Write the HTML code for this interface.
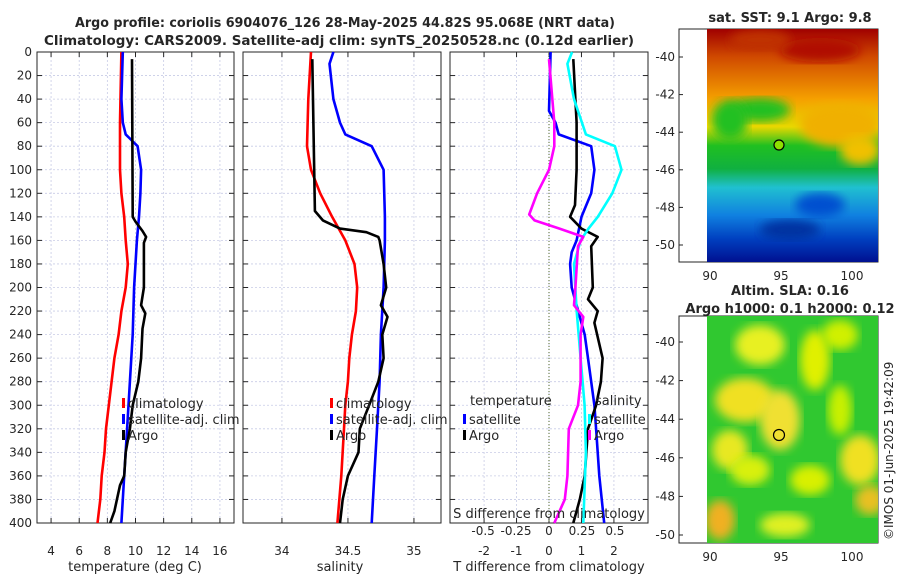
<!DOCTYPE html>
<html><head><meta charset="utf-8"><style>
body{margin:0;background:#fff;}
svg text{font-family:"DejaVu Sans","Liberation Sans",sans-serif;fill:#262626;}
</style></head><body>
<svg id="c" width="900" height="580" xmlns="http://www.w3.org/2000/svg">
<defs>
<linearGradient id="sstg" x1="0" y1="0" x2="0" y2="1">
<stop offset="0" stop-color="#a00000"/><stop offset="0.12" stop-color="#d04a00"/><stop offset="0.3" stop-color="#f5a000"/><stop offset="0.42" stop-color="#e8d800"/><stop offset="0.5" stop-color="#20c020"/><stop offset="0.6" stop-color="#10b040"/><stop offset="0.68" stop-color="#20c0d0"/><stop offset="0.8" stop-color="#1080e0"/><stop offset="0.9" stop-color="#0040c0"/><stop offset="1" stop-color="#001090"/>
</linearGradient>
<filter id="blur"><feGaussianBlur stdDeviation="5"/></filter>
<clipPath id="clip1"><rect x="707" y="29" width="171" height="233"/></clipPath>
<clipPath id="clip2"><rect x="707" y="316" width="171" height="227"/></clipPath>
</defs>
<text x="75" y="27" textLength="540" lengthAdjust="spacingAndGlyphs" font-size="13" font-weight="bold">Argo profile: coriolis 6904076_126 28-May-2025 44.82S 95.068E (NRT data)</text>
<text x="44" y="45" textLength="590" lengthAdjust="spacingAndGlyphs" font-size="13" font-weight="bold">Climatology: CARS2009. Satellite-adj clim: synTS_20250528.nc (0.12d earlier)</text>
<g id="plots"></g>
<g id="maps"></g>
</svg>
<script>
// ---- data ----
const depthTicks=[0,20,40,60,80,100,120,140,160,180,200,220,240,260,280,300,320,340,360,380,400];
const tempTicks=[4,6,8,10,12,14,16];
const salTicks=[34,34.5,35];
const tdTicks=[-2,-1,0,1,2];
const sdTicks=[-0.5,-0.25,0,0.25,0.5];
const sdTickLabels=["-0.5","-0.25","0","0.25","0.5"];
const climTD=[0,60,100,120,140,160,180,200,220,240,260,280,300,320,340,360,380,400];
const climT=[9.0,8.9,8.9,9.0,9.2,9.3,9.45,9.3,9.0,8.8,8.5,8.3,8.1,7.9,7.8,7.6,7.5,7.3];
const satTD=[0,40,60,70,80,100,120,140,160,200,240,280,320,360,400];
const satT=[9.1,9.0,9.1,9.3,10.15,10.4,10.35,10.25,10.1,9.9,9.8,9.6,9.4,9.2,9.0];
const argoTD=[6,140,144,152,157,162,200,215,222,235,260,280,300,320,340,360,368,390,400];
const argoT=[9.75,9.8,10.0,10.5,10.75,10.6,10.6,10.4,10.7,10.5,10.4,10.2,9.8,9.6,9.3,9.2,8.9,8.5,8.2];
const climSD=[0,40,80,100,120,140,160,180,200,220,240,260,280,300,320,360,400];
const climS=[34.22,34.2,34.19,34.22,34.29,34.38,34.48,34.55,34.57,34.56,34.53,34.51,34.5,34.48,34.47,34.45,34.42];
const satSD=[0,10,40,60,70,80,100,140,160,200,240,280,320,360,400];
const satS=[34.39,34.36,34.39,34.44,34.48,34.68,34.77,34.78,34.78,34.77,34.75,34.74,34.72,34.7,34.68];
const argoSD=[6,135,143,150,153,157,160,180,200,215,225,240,260,280,300,320,340,360,380,400];
const argoS=[34.23,34.25,34.31,34.44,34.64,34.73,34.74,34.77,34.79,34.75,34.8,34.76,34.77,34.73,34.66,34.59,34.58,34.5,34.46,34.44];
const dSatTD=[0,50,60,70,80,100,120,140,160,170,180,200,220,240,260,280,300,320,360,400];
const dSatT=[0.05,0,0.2,0.3,1.3,1.4,1.3,1.0,0.85,0.7,0.65,0.7,0.9,1.1,1.2,1.3,1.4,1.45,1.55,1.7];
const dArgoTD=[6,60,100,130,140,150,157,165,200,210,220,230,260,280,300,320,360,380,400];
const dArgoT=[0.75,0.85,0.85,0.8,0.65,1.0,1.5,1.3,1.35,1.2,1.5,1.4,1.65,1.6,1.45,1.2,1.1,0.95,0.75];
const dSatSD=[0,10,40,70,80,100,120,140,150,160,180,220,260,300,340,400];
const dSatS=[0.175,0.14,0.19,0.28,0.5,0.55,0.48,0.37,0.3,0.24,0.19,0.21,0.24,0.27,0.28,0.26];
const dArgoSD=[6,60,80,100,120,138,143,150,157,165,200,215,225,240,280,300,320,360,380,400];
const dArgoS=[0,0.04,0.04,0,-0.09,-0.15,-0.11,0.08,0.26,0.22,0.2,0.19,0.26,0.24,0.24,0.22,0.15,0.14,0.12,0.04];
const latTicks=[-40,-42,-44,-46,-48,-50];
const lonTicks=[90,95,100];

// ---- helpers ----
const NS="http://www.w3.org/2000/svg";
const root=document.getElementById('plots');
function mk(tag,attrs,parent){const e=document.createElementNS(NS,tag);for(const k in attrs)e.setAttribute(k,attrs[k]);(parent||root).appendChild(e);return e;}
const Y0=52,Y1=523;
const yD=d=>Y0+(d/400)*(Y1-Y0);
function panel(x0,x1,vmin,vmax,name){
  const g=mk('g',{});
  
  
  const sx=v=>x0+(v-vmin)/(vmax-vmin)*(x1-x0);
  return {g,sx,x0,x1};
}
function grid(p,ticks,labels,ylabels){
  depthTicks.forEach(d=>{
    const y=yD(d);
    if(d>0&&d<400){const l=mk('line',{x1:p.x0,x2:p.x1,y1:y,y2:y,stroke:'#c8cce6','stroke-width':0.8,'stroke-dasharray':'2,2'},p.g);
      }
    mk('line',{x1:p.x0,x2:p.x0+5,y1:y,y2:y,stroke:'#262626'},p.g);
    mk('line',{x1:p.x1-5,x2:p.x1,y1:y,y2:y,stroke:'#262626'},p.g);
    if(ylabels){const t=mk('text',{x:p.x0-5,y:y+4,'text-anchor':'end','font-size':12},p.g);t.textContent=d;
      }
  });
  ticks.forEach((v,i)=>{
    const x=p.sx(v);
    const l=mk('line',{x1:x,x2:x,y1:Y0,y2:Y1,stroke:'#c8cce6','stroke-width':0.8,'stroke-dasharray':'2,2'},p.g);
    
    mk('line',{x1:x,x2:x,y1:Y1-5,y2:Y1,stroke:'#262626'},p.g);
    mk('line',{x1:x,x2:x,y1:Y0,y2:Y0+5,stroke:'#262626'},p.g);
    const t=mk('text',{x:x,y:Y1+32,'text-anchor':'middle','font-size':12},p.g);t.textContent=labels?labels[i]:v;
    
  });
  mk('rect',{x:p.x0,y:Y0,width:p.x1-p.x0,height:Y1-Y0,fill:'none',stroke:'#262626','stroke-width':1},p.g);
}
function line(p,ds,vs,color,name,scale){
  const pts=ds.map((d,i)=>p.sx(vs[i]*(scale||1)).toFixed(1)+','+yD(d).toFixed(1)).join(' ');
  const e=mk('polyline',{points:pts,fill:'none',stroke:color,'stroke-width':2.6,'stroke-linejoin':'round'},p.g);
  
  
}
function txt(p,x,y,s,name,anchor,size){const t=mk('text',{x:x,y:y,'font-size':size||13,'text-anchor':anchor||'start'},p.g);t.textContent=s;
  return t;}
function leg(p,x,y,color,s,name){
  const r=mk('rect',{x:x,y:y-10,width:3,height:10,fill:color},p.g);
  
  txt(p,x+6,y,s,name);
}

// Panel 1: temperature
const p1=panel(37,234,3,17,'temperature-panel');
grid(p1,tempTicks,null,true);
line(p1,climTD,climT,'#f00','temp-climatology-line');
line(p1,satTD,satT,'#00f','temp-satellite-line');
line(p1,argoTD,argoT,'#000','temp-argo-line');
txt(p1,135,571,'temperature (deg C)','x-axis-title-temperature','middle');
leg(p1,122,408,'#f00','climatology','legend-climatology');
leg(p1,122,424,'#00f','satellite-adj. clim','legend-satellite-adj');
leg(p1,122,440,'#000','Argo','legend-argo');

// Panel 2: salinity
const p2=panel(243,441,33.705,35.205,'salinity-panel');
grid(p2,salTicks,null,false);
line(p2,climSD,climS,'#f00','sal-climatology-line');
line(p2,satSD,satS,'#00f','sal-satellite-line');
line(p2,argoSD,argoS,'#000','sal-argo-line');
txt(p2,340,571,'salinity','x-axis-title-salinity','middle');
leg(p2,330,408,'#f00','climatology','legend-climatology-2');
leg(p2,330,424,'#00f','satellite-adj. clim','legend-satellite-adj-2');
leg(p2,330,440,'#000','Argo','legend-argo-2');

// Panel 3: differences
const p3=panel(450,648,-3.05,3.05,'difference-panel');
grid(p3,tdTicks,null,false);
const zx=p3.sx(0);
const zl=mk('line',{x1:zx,x2:zx,y1:Y0,y2:Y1,stroke:'#556b2f','stroke-width':1,'stroke-dasharray':'1,2'},p3.g);

line(p3,dSatTD,dSatT,'#00f','tdiff-satellite-line');
line(p3,dArgoTD,dArgoT,'#000','tdiff-argo-line');
line(p3,dSatSD,dSatS,'#0ff','sdiff-satellite-line',4.06);
line(p3,dArgoSD,dArgoS,'#f0f','sdiff-argo-line',4.06);
txt(p3,549,571,'T difference from climatology','x-axis-title-tdiff','middle');
txt(p3,549,518,'S difference from climatology','s-axis-title','middle');
sdTicks.forEach((v,i)=>txt(p3,p3.sx(v*4.06),535,sdTickLabels[i],'s-tick-label','middle',12));
txt(p3,470,405,'temperature','legend-temperature-heading');
leg(p3,463,424,'#00f','satellite','legend-t-satellite');
leg(p3,463,440,'#000','Argo','legend-t-argo');
txt(p3,595,405,'salinity','legend-salinity-heading');
leg(p3,588,424,'#0ff','satellite','legend-s-satellite');
leg(p3,588,440,'#f0f','Argo','legend-s-argo');

// ---- maps ----
const mg=document.getElementById('maps');
const lonX=v=>710+(v-90)*14.2;
function mapFrame(top,bot,lat40,lat50,title,tname){
  const g=mk('g',{},mg);
  
  const ly=l=>lat40+(-40-l)/10*(lat50-lat40);
  latTicks.forEach(l=>{const y=ly(l);
    mk('line',{x1:679,x2:683,y1:y,y2:y,stroke:'#262626'},g);mk('line',{x1:874,x2:878,y1:y,y2:y,stroke:'#262626'},g);
    const t=mk('text',{x:675,y:y+4,'text-anchor':'end','font-size':12},g);t.textContent=l;
    });
  lonTicks.forEach(v=>{const x=lonX(v);
    mk('line',{x1:x,x2:x,y1:bot-4,y2:bot,stroke:'#262626'},g);mk('line',{x1:x,x2:x,y1:top,y2:top+4,stroke:'#262626'},g);
    const t=mk('text',{x:x,y:bot+18,'text-anchor':'middle','font-size':12},g);t.textContent=v;
    });
  mk('rect',{x:679,y:top,width:199,height:bot-top,fill:'none',stroke:'#262626'},g);
  return {g,ly};
}
// SST map
const m1=mapFrame(29,262,57,245,'','sst-map');
const s1=mk('g',{'clip-path':'url(#clip1)'},m1.g);
mk('rect',{x:707,y:29,width:171,height:233,fill:'url(#sstg)'},s1);
[[760,110,30,12,'#20c020'],[730,120,18,20,'#20c020'],[840,125,40,22,'#f0b000'],[860,150,20,15,'#f0c000'],[820,205,25,12,'#0050d0'],[790,230,30,10,'#0030a0'],[820,50,40,12,'#b01000'],[760,40,30,10,'#c03000']].forEach(b=>{
  const e=mk('ellipse',{cx:b[0],cy:b[1],rx:b[2],ry:b[3],fill:b[4],filter:'url(#blur)'},s1);
  });
const c1=mk('circle',{cx:779,cy:145,r:5,fill:'#8fe000',stroke:'#000','stroke-width':1.2},m1.g);

const t1=mk('text',{x:790,y:22,'text-anchor':'middle','font-size':13,'font-weight':'bold'},mg);t1.textContent='sat. SST: 9.1 Argo: 9.8';

// SLA map
const m2=mapFrame(316,543,342,535,'','sla-map');
const s2=mk('g',{'clip-path':'url(#clip2)'},m2.g);
mk('rect',{x:707,y:316,width:171,height:227,fill:'#30c830'},s2);
[[760,345,25,20,'#e8f020'],[815,360,15,30,'#e0f000'],[745,400,30,22,'#f0e020'],[780,420,20,30,'#f0e030'],[730,450,18,20,'#e8e820'],[860,460,20,25,'#f0e020'],[810,480,20,15,'#d8f000'],[720,520,15,20,'#f0b020'],[870,500,15,15,'#e8c020'],[785,525,25,12,'#e0f020'],[840,335,18,15,'#d0f000'],[750,470,20,15,'#d8f010'],[840,410,12,25,'#c8f000']].forEach(b=>{
  const e=mk('ellipse',{cx:b[0],cy:b[1],rx:b[2],ry:b[3],fill:b[4],filter:'url(#blur)'},s2);
  });
const c2=mk('circle',{cx:779,cy:435,r:5.5,fill:'none',stroke:'#000','stroke-width':1.2},m2.g);

const t2=mk('text',{x:790,y:295,'text-anchor':'middle','font-size':13,'font-weight':'bold'},mg);t2.textContent='Altim. SLA: 0.16';

const t3=mk('text',{x:790,y:313,'text-anchor':'middle','font-size':13,'font-weight':'bold'},mg);t3.textContent='Argo h1000: 0.1 h2000: 0.12';

const t4=mk('text',{x:0,y:0,'font-size':12,transform:'translate(893,540) rotate(-90)'},mg);t4.textContent='©IMOS 01-Jun-2025 19:42:09';

</script>
</body></html>
